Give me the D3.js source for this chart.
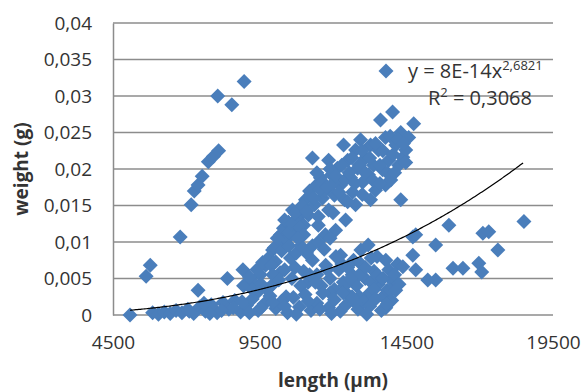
<!DOCTYPE html>
<html>
<head>
<meta charset="utf-8">
<script src="https://cdn.jsdelivr.net/npm/d3@7"></script>
<style>
  body { margin: 0; background: #fff; }
  svg text { font-family: "Open Sans", "Noto Sans", sans-serif; fill: #333; }
</style>
</head>
<body>
<div id="chart"></div>
<script>
// tick values
const xTicks = [4500, 9500, 14500, 19500];
const yTicks = [0, 0.005, 0.01, 0.015, 0.02, 0.025, 0.03, 0.035, 0.04];

// power trend y = a * x^b (a as fitted, label shows rounded value)
const trendA = 7.5e-14;
const trendB = 2.6821;
const trendLabel = "y = 8E-14x";
const trendExp = "2,6821";
const r2Label = "0,3068";

// length (µm) / weight (g)
const lengths = [
  // steep left branch
  5080, 5630, 5770, 6790, 7165, 7270, 7400, 7540, 7750, 7920, 8100, 8070, 8550, 8970,
  7400, 8400, 8930,
  // diagonal band
  9350, 9520, 9700, 9800, 9940, 10040, 10140, 10210, 10310, 10410, 10480, 10620, 10690, 10790,
  10890, 11000, 11060, 11160, 11230, 11300, 11370, 11440, 11500, 11570, 11640, 11740, 11850, 11850,
  11950, 12050, 12150, 12260, 12360, 12390, 12500, 12600, 12670, 12770, 12840, 12940, 13010, 13110,
  13210, 13280, 13380, 13450, 13550, 13620, 13690, 13790, 13900, 13970, 14030, 14140, 14240, 14310,
  14380, 14480, 14480, 14580, 14750, 14310, 13790, 13280, 12770, 12430, 12090, 11740,
  9200, 9400, 9600, 9900, 10000, 10100, 10250, 10350, 10500, 10600, 10700, 10850, 10950, 11100,
  11200, 11350, 11450, 11550, 11650, 11800, 11900, 12000, 12100, 12200, 12300, 12400, 12550, 12650,
  12750, 12900, 13000, 13100, 13250, 13350, 13450, 13600, 13700, 13850, 13950, 14050, 14200, 14400,
  14100, 13600, 13000, 12500, 12000, 11500, 11000, 10500,
  // middle cluster
  11000, 11150, 11300, 11450, 11600, 11750, 11900, 12050, 12200, 12350, 12500, 12650, 12800, 12950,
  13100, 13250, 13400, 13550, 13700, 13850, 14000, 12950, 13200, 13950, 12260, 13500, 13800,
  11100, 11300, 11500, 11700, 11900, 12100, 12300, 12500, 12700, 12900, 13100, 13300, 13500, 13700,
  13900, 14100, 14250, 14000, 13800, 13400, 12900, 12400, 11900, 11400, 10900, 10400, 9900, 9400,
  10700, 10200, 11200, 11800, 12600, 13300, 14200,
  // right sparse points
  14720, 14820, 15950, 18510, 17110, 17310, 17620, 15500, 14720, 14380, 14820, 15230, 15500, 16090,
  16430, 16970, 17070, 14140, 13150,
  // bottom band
  5850, 6050, 6250, 6450, 6650, 6850, 7050, 7250, 7450, 7650, 7850, 8050, 8250, 8450,
  8650, 8850, 9050, 9250, 9450, 9650, 9850, 10050, 10250, 10450, 10650, 10850, 11050, 11250,
  11450, 11650, 11850, 12050, 12250, 12450, 12650, 12850, 13050, 13250, 13450, 13650, 13850, 9150,
  9550, 9950, 10350, 10750, 11150, 11550, 11950, 12350, 12750, 13150,
  8900, 8600, 8200, 7800, 7600, 7100,
  // fill under the band
  8950, 9150, 9250, 9550, 9750, 9950, 10150, 10350, 10550, 10750, 10600, 10900, 10800
];
const weights = [
  0.0000, 0.0053, 0.0068, 0.0107, 0.0151, 0.0170, 0.0178, 0.0190, 0.0210, 0.0217, 0.0225, 0.0300, 0.0288, 0.0320,
  0.0034, 0.0050, 0.0062,
  0.0041, 0.0055, 0.0068, 0.0078, 0.0089, 0.0073, 0.0096, 0.0110, 0.0119, 0.0103, 0.0127, 0.0144, 0.0114, 0.0133,
  0.0141, 0.0123, 0.0158, 0.0137, 0.0164, 0.0215, 0.0151, 0.0178, 0.0123, 0.0188, 0.0160, 0.0171, 0.0212, 0.0144,
  0.0192, 0.0164, 0.0201, 0.0178, 0.0233, 0.0158, 0.0212, 0.0188, 0.0168, 0.0226, 0.0201, 0.0240, 0.0182, 0.0215,
  0.0192, 0.0233, 0.0205, 0.0171, 0.0226, 0.0267, 0.0199, 0.0243, 0.0212, 0.0185, 0.0278, 0.0233, 0.0205, 0.0250,
  0.0216, 0.0226, 0.0209, 0.0243, 0.0262, 0.0158, 0.0178, 0.0158, 0.0151, 0.0130, 0.0116, 0.0110,
  0.0048, 0.0062, 0.0072, 0.0068, 0.0092, 0.0105, 0.0088, 0.0130, 0.0112, 0.0125, 0.0140, 0.0120, 0.0150, 0.0142,
  0.0170, 0.0160, 0.0195, 0.0172, 0.0182, 0.0175, 0.0200, 0.0180, 0.0190, 0.0168, 0.0205, 0.0185, 0.0195, 0.0215,
  0.0180, 0.0205, 0.0225, 0.0195, 0.0215, 0.0185, 0.0235, 0.0205, 0.0225, 0.0195, 0.0245, 0.0220, 0.0240, 0.0235,
  0.0195, 0.0180, 0.0165, 0.0155, 0.0140, 0.0135, 0.0110, 0.0095,
  0.0060, 0.0045, 0.0075, 0.0055, 0.0040, 0.0068, 0.0050, 0.0035, 0.0062, 0.0045, 0.0028, 0.0055, 0.0040, 0.0070,
  0.0050, 0.0030, 0.0060, 0.0042, 0.0025, 0.0034, 0.0048, 0.0089, 0.0096, 0.0034, 0.0082, 0.0080, 0.0075,
  0.0085, 0.0095, 0.0100, 0.0090, 0.0105, 0.0080, 0.0070, 0.0065, 0.0075, 0.0055, 0.0065, 0.0045, 0.0055, 0.0050,
  0.0062, 0.0055, 0.0042, 0.0020, 0.0010, 0.0035, 0.0025, 0.0040, 0.0030, 0.0045, 0.0040, 0.0025, 0.0040, 0.0030,
  0.0065, 0.0058, 0.0055, 0.0062, 0.0050, 0.0078, 0.0070,
  0.0107, 0.0110, 0.0123, 0.0128, 0.0112, 0.0114, 0.0089, 0.0096, 0.0082, 0.0066, 0.0062, 0.0048, 0.0048, 0.0064,
  0.0064, 0.0071, 0.0059, 0.0034, 0.0016,
  0.0003, 0.0001, 0.0004, 0.0002, 0.0006, 0.0003, 0.0008, 0.0002, 0.0011, 0.0005, 0.0014, 0.0003, 0.0017, 0.0008,
  0.0020, 0.0004, 0.0013, 0.0022, 0.0006, 0.0015, 0.0026, 0.0009, 0.0019, 0.0003, 0.0024, 0.0011, 0.0028, 0.0006,
  0.0016, 0.0030, 0.0010, 0.0021, 0.0005, 0.0014, 0.0025, 0.0008, 0.0018, 0.0012, 0.0022, 0.0006, 0.0015, 0.0003,
  0.0010, 0.0017, 0.0012, 0.0001, 0.0019, 0.0008, 0.0002, 0.0030, 0.0017, 0.0001,
  0.0018, 0.0010, 0.0006, 0.0002, 0.0016, 0.0005,
  0.0040, 0.0052, 0.0035, 0.0042, 0.0035, 0.0055, 0.0048, 0.0062, 0.0078, 0.0085, 0.0050, 0.0095, 0.0105
];

const W = 585, H = 392;
const margin = { top: 23, right: 32, bottom: 77, left: 113 };
const blue = "#4a7ebb";

const svg = d3.select("#chart").append("svg")
  .attr("width", W)
  .attr("height", H);

const x = d3.scaleLinear().domain([4500, 19500]).range([margin.left, W - margin.right]);
const y = d3.scaleLinear().domain([0, 0.04]).range([H - margin.bottom, margin.top]);

const comma = d3.formatLocale({ decimal: ",", thousands: "", grouping: [3], currency: ["", ""] });
const yFmt = d => d === 0 ? "0" : comma.format("~g")(d);

// gridlines
svg.append("g")
  .selectAll("line")
  .data(yTicks)
  .join("line")
  .attr("x1", x.range()[0])
  .attr("x2", x.range()[1])
  .attr("y1", d => y(d))
  .attr("y2", d => y(d))
  .attr("stroke", "#8c8c8c")
  .attr("stroke-width", 1.5);

// axes
const yAxis = svg.append("g")
  .attr("transform", `translate(${margin.left},0)`)
  .call(d3.axisLeft(y).tickValues(yTicks).tickFormat(yFmt).tickSize(0).tickPadding(21));
const xAxis = svg.append("g")
  .attr("transform", `translate(0,${y(0)})`)
  .call(d3.axisBottom(x).tickValues(xTicks).tickFormat(d3.format("d")).tickSize(0).tickPadding(21));

[yAxis, xAxis].forEach(a => {
  a.select(".domain").attr("stroke", "#8c8c8c").attr("stroke-width", 1.5);
  a.selectAll("text")
    .style("font-family", '"Open Sans", sans-serif')
    .style("font-size", "19px")
    .attr("fill", "#333");
});
xAxis.select(".domain").remove();

// points
const pts = lengths.map((l, i) => ({ l, w: weights[i] }));
const diamond = "M0,-7.5L7.5,0L0,7.5L-7.5,0Z";
svg.append("g")
  .selectAll("path")
  .data(pts)
  .join("path")
  .attr("d", diamond)
  .attr("transform", d => `translate(${x(d.l)},${y(d.w)})`)
  .attr("fill", blue);

// trend line
const xs = d3.range(d3.min(lengths), d3.max(lengths) + 1, 50);
svg.append("path")
  .datum(xs)
  .attr("fill", "none")
  .attr("stroke", "#000")
  .attr("stroke-width", 1.2)
  .attr("d", d3.line().x(d => x(d)).y(d => y(trendA * Math.pow(d, trendB))));

// legend / equation
svg.append("path")
  .attr("d", diamond)
  .attr("transform", "translate(386,71)")
  .attr("fill", blue);
const eq = svg.append("text").attr("x", 408).attr("y", 78).style("font-size", "20px");
eq.append("tspan").text(trendLabel);
eq.append("tspan").attr("dy", -8).style("font-size", "13px").text(trendExp);
const r2 = svg.append("text").attr("x", 428).attr("y", 105).style("font-size", "20px");
r2.append("tspan").text("R");
r2.append("tspan").attr("dy", -8).style("font-size", "13px").text("2");
r2.append("tspan").attr("dy", 8).text(" = " + r2Label);

// axis titles
svg.append("text")
  .attr("x", (x.range()[0] + x.range()[1]) / 2)
  .attr("y", 387)
  .attr("text-anchor", "middle")
  .style("font-size", "19px")
  .style("font-weight", "bold")
  .text("length (µm)");
svg.append("text")
  .attr("transform", `translate(28,${(y.range()[0] + y.range()[1]) / 2}) rotate(-90)`)
  .attr("text-anchor", "middle")
  .style("font-size", "19px")
  .style("font-weight", "bold")
  .text("weight (g)");
</script>
</body>
</html>
